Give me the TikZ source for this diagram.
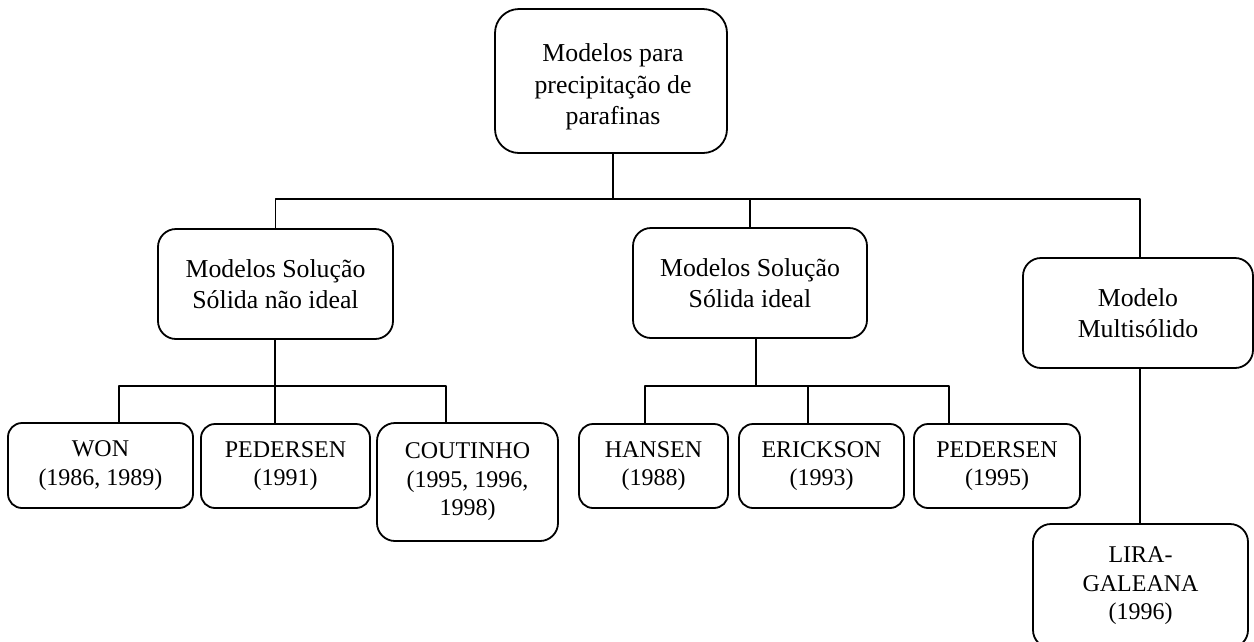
\documentclass[tikz,border=0pt]{standalone}
\usepackage{fontspec}
\setmainfont{Liberation Serif}

\tikzset{
  boxsize/.style 2 args={minimum width=#1pt, minimum height=#2pt},
  bigbox/.style={draw, line width=1.8pt, rounded corners=18pt, align=center, inner sep=0pt,
    font=\fontsize{25.8}{31.5}\selectfont},
  smallbox/.style={draw, line width=1.8pt, rounded corners=14pt, align=center, inner sep=0pt,
    font=\fontsize{24}{28.5}\selectfont},
  link/.style={line width=1.8pt}
}

\begin{document}
\begin{tikzpicture}[x=1pt, y=-1pt, line join=round]
  \useasboundingbox (0,0) rectangle (1254,641);

  % Top box (text sits a little low in its box)
  \node[bigbox, boxsize={232}{144}, rounded corners=24pt] (top) at (611,81) {};
  \node[align=center, inner sep=0pt, font=\fontsize{25.8}{31.5}\selectfont] (toptxt)
    at ([xshift=2pt, yshift=-6pt]top.center) {Modelos para\\precipitação de\\parafinas};

  % First level
  \node[bigbox, boxsize={235}{110}] (nideal) at (275.5,284) {Modelos Solução\\Sólida não ideal};
  \node[bigbox, boxsize={234}{110}] (ideal) at (750,283) {Modelos Solução\\Sólida ideal};
  \node[bigbox, boxsize={230}{110}] (multi) at (1138,313) {Modelo\\Multisólido};

  % Second level, non ideal
  \node[smallbox, boxsize={185}{85}] (won) at (100.5,465.5) {WON\\(1986, 1989)};
  \node[smallbox, boxsize={169}{84}] (ped91) at (285.5,466) {PEDERSEN\\(1991)};
  \node[smallbox, boxsize={181}{118}, rounded corners=18pt] (cout) at (467.5,482)
    {COUTINHO\\(1995, 1996,\\1998)};

  % Second level, ideal
  \node[smallbox, boxsize={149}{84}] (hansen) at (653.5,466) {HANSEN\\(1988)};
  \node[smallbox, boxsize={165}{84}] (erick) at (821.5,466) {ERICKSON\\(1993)};
  \node[smallbox, boxsize={166}{84}] (ped95) at (997,466) {PEDERSEN\\(1995)};

  % Second level, multisolid
  \node[smallbox, boxsize={215}{124}, rounded corners=18pt] (lira) at (1140.5,586)
    {LIRA-\\GALEANA\\(1996)};

  % Connectors
  \coordinate (bus) at (0,199);
  \coordinate (busL) at (0,386);
  \coordinate (busM) at (0,386);

  \draw[link] ([xshift=2pt]top.south) -- ([xshift=2pt]top.south |- bus);
  \draw[link] (nideal.north) -- (nideal.north |- bus) -| ([xshift=2pt]multi.north);
  \draw[link] (ideal.north) -- (ideal.north |- bus);

  \draw[link] ([xshift=-0.6pt]nideal.south) -- ([xshift=-0.6pt]nideal.south |- ped91.north);
  \draw[link] ([xshift=18.5pt]won.north) |- ([xshift=-21.5pt]cout.north |- busL)
    -- ([xshift=-21.5pt]cout.north);

  \draw[link] ([xshift=6pt]ideal.south) -- ([xshift=6pt]ideal.south |- busM);
  \draw[link] ([xshift=-8.5pt]hansen.north) |- ([xshift=-48pt]ped95.north |- busM)
    -- ([xshift=-48pt]ped95.north);
  \draw[link] ([xshift=-13.5pt]erick.north) -- ([xshift=-13.5pt]erick.north |- busM);

  \draw[link] ([xshift=2pt]multi.south) -- ([xshift=2pt]multi.south |- lira.north);
\end{tikzpicture}
\end{document}
